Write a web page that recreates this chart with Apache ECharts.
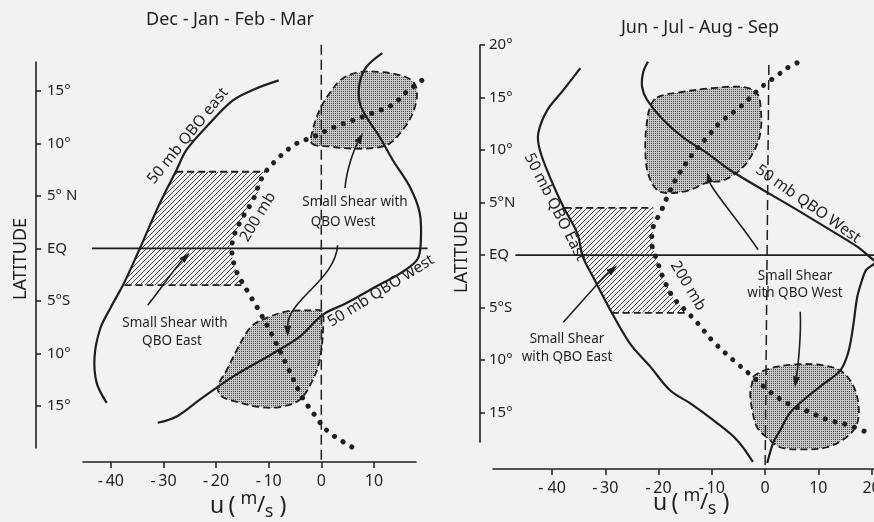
<!DOCTYPE html>
<html><head><meta charset="utf-8">
<script src="https://cdn.jsdelivr.net/npm/echarts@6/dist/echarts.min.js"></script>
<style>html,body{margin:0;padding:0;background:#f2f2f0;} #chart{width:874px;height:522px;}</style>
</head><body><div id="chart"></div>
<script>
// ---------------- DATA ----------------
// Left panel: Dec-Jan-Feb-Mar  (u in m/s, latitude in degrees)
const leftXTicks = [-40, -30, -20, -10, 0, 10];
const leftXLabels = ['-\u200940', '-\u200930', '-\u200920', '-\u200910', '0', '10'];
const leftYTicks = [15, 10, 5, 0, -5, -10, -15];
const leftYLabels = ['15°', '10°', '5° N', 'EQ', '5°S', '10°', '15°'];

const leftEast = [[-8.1,16.0],[-12.5,15.2],[-16.8,14.1],[-21.8,11.6],[-25.6,9.4],[-27.5,7.5],[-30.7,4.3],[-34.5,0],[-37.5,-3.3],[-40.0,-5.6],[-42.0,-7.6],[-43.1,-10.3],[-42.7,-12.8],[-40.8,-14.7]];
const leftWest = [[11.6,18.6],[8.6,17.3],[7.3,15.8],[7.3,13.9],[8.6,12.5],[11.1,10.6],[13.6,8.4],[16.8,5.9],[18.7,3.4],[18.9,0.5],[18.2,-1.1],[14.9,-2.4],[10.5,-3.6],[4.8,-5.2],[0.3,-6.3],[-4.1,-8.4],[-9.2,-10.0],[-16.8,-12.2],[-23.1,-14.4],[-27.5,-16.0],[-31.1,-16.6]];
const left200 = [[19.1,16.0],[16.2,14.9],[13.6,13.7],[9.8,12.9],[6.0,12.2],[2.2,11.5],[-1.6,10.6],[-5.0,9.9],[-9.2,8.1],[-11.3,6.7],[-13.0,4.6],[-14.9,3.0],[-16.6,1.2],[-17.0,-0.3],[-16.1,-2.2],[-14.0,-4.1],[-12.1,-5.7],[-9.4,-8.2],[-6.4,-11.3],[-3.7,-14.1],[-1.2,-15.9],[1.0,-17.3],[4.1,-18.4],[5.8,-18.9]];
const leftShearNorth = [[-1.8,10.0],[1.6,9.7],[6.0,9.5],[10.6,9.6],[13.0,10.0],[15.5,11.3],[17.4,12.9],[18.2,14.8],[17.4,15.9],[14.9,16.5],[11.1,16.8],[7.3,16.8],[4.1,16.2],[1.6,14.8],[-0.3,13.2],[-1.6,11.3]];
const leftShearSouth = [[-11.3,-6.8],[-6.6,-6.0],[-2.2,-5.9],[0.1,-6.0],[0.3,-8.0],[-0.3,-10.6],[-1.6,-12.5],[-4.1,-14.4],[-7.9,-15.1],[-11.7,-15.1],[-16.1,-14.6],[-18.9,-14.1],[-19.7,-13.2],[-18.0,-11.6],[-16.1,-9.7],[-14.2,-8.0],[-13.0,-7.3]];
const leftHatch = [[-27.6,7.3],[-10.7,7.3],[-11.3,6.7],[-12.3,4.9],[-14.0,4.0],[-14.9,3.0],[-16.1,1.8],[-17.0,0.6],[-17.0,-0.3],[-16.8,-1.3],[-16.1,-2.2],[-15.2,-3.5],[-37.4,-3.5],[-34.5,0],[-32.6,2.4],[-30.7,4.3],[-29.0,6.0]];
const leftHatchTop = [[-27.6,7.3],[-10.7,7.3]];
const leftHatchBottom = [[-37.4,-3.5],[-15.2,-3.5]];
const leftEq = [[-43.6,0],[20.2,0]];
const leftZero = [[0,19.4],[0,-20.3]];
// arrows: start, control1, control2, end
const leftArrows = [
  [4.5,5.75, 4.8,7.5, 6.2,9.4, 7.9,11.0],
  [3.1,0.3, 2.7,-3.0, -6.4,-4.9, -6.4,-8.4],
  [-33.0,-5.4, -30.7,-4.0, -27.9,-1.9, -25.0,-0.4]
];

// Right panel: Jun-Jul-Aug-Sep
const rightXTicks = [-40, -30, -20, -10, 0, 10, 20];
const rightXLabels = ['- 40', '-\u200930', '-\u200920', '-\u200910', '0', '10', '20'];
const rightYTicks = [20, 15, 10, 5, 0, -5, -10, -15];
const rightYLabels = ['20°', '15°', '10°', '5°N', 'EQ', '5°S', '10°', '15°'];

const rightEast = [[-34.7,17.8],[-37.9,15.7],[-40.9,13.8],[-42.6,11.6],[-42.3,10.0],[-40.4,7.4],[-37.9,4.6],[-35.3,2.1],[-34.2,-0.2],[-32.3,-2.1],[-29.1,-5.2],[-25.4,-8.4],[-21.6,-10.6],[-17.8,-12.9],[-14.1,-14.1],[-9.8,-15.7],[-5.3,-17.6],[-2.3,-19.7]];
const rightWest = [[-22.0,18.4],[-22.9,17.4],[-23.1,16.0],[-22.2,14.8],[-19.2,12.9],[-15.4,11.2],[-10.9,9.7],[-6.6,8.1],[-0.4,6.2],[6.0,4.3],[12.2,2.4],[17.3,0.8],[19.7,-0.2],[20.7,-0.7],[19.0,-1.4],[18.2,-2.4],[17.3,-4.0],[16.5,-6.9],[15.6,-9.3],[14.1,-11.0],[10.9,-12.3],[7.9,-13.5],[4.7,-15.0],[2.8,-16.7],[1.5,-17.9],[0.4,-19.8]];
const right200 = [[6.0,18.3],[4.1,17.8],[2.3,17.1],[0.6,16.5],[-0.9,15.9],[-4.7,14.1],[-8.5,12.6],[-10.9,11.2],[-13.5,9.7],[-16.9,7.1],[-18.4,5.5],[-19.7,4.0],[-21.0,2.7],[-21.2,0.8],[-20.3,-0.5],[-19.2,-2.1],[-17.3,-4.0],[-14.5,-5.5],[-12.8,-6.4],[-10.0,-8.1],[-6.0,-10.0],[-2.3,-11.6],[0.6,-12.9],[4.1,-14.1],[8.1,-14.9],[11.8,-15.7],[15.6,-16.2],[19.7,-17.0]];
const rightShearNorth = [[-20.3,15.0],[-16.0,15.5],[-9.8,15.9],[-4.1,16.0],[-1.5,15.4],[-0.8,13.8],[-0.9,11.6],[-2.3,9.7],[-4.7,8.1],[-7.9,7.1],[-10.9,6.9],[-14.1,6.2],[-17.8,5.9],[-20.3,6.2],[-22.0,7.8],[-22.5,10.0],[-22.3,12.2],[-21.6,14.1]];
const rightShearSouth = [[-2.3,-11.6],[0.9,-10.8],[6.0,-10.4],[10.9,-10.5],[14.1,-11.0],[16.3,-12.2],[17.5,-14.1],[17.3,-16.0],[15.4,-17.3],[11.6,-18.3],[6.6,-18.5],[2.8,-18.3],[0.4,-17.4],[-1.5,-16.4],[-2.4,-14.8],[-2.8,-13.1],[-2.4,-12.1]];
const rightHatch = [[-37.7,4.5],[-21.0,4.5],[-21.0,2.7],[-21.2,0.8],[-20.3,-0.5],[-19.2,-2.1],[-17.3,-4.0],[-14.6,-5.5],[-28.8,-5.5],[-32.3,-2.1],[-34.2,-0.2],[-35.3,2.1],[-36.6,3.4]];
const rightHatchTop = [[-37.7,4.5],[-21.0,4.5]];
const rightHatchBottom = [[-28.8,-5.5],[-14.6,-5.5]];
const rightEq = [[-46.9,0],[21.0,0]];
const rightZero = [[0.7,18.1],[0,-20.4]];
const rightArrows = [
  [-1.3,0.5, -4.7,3.1, -10.0,6.2, -10.9,7.9],
  [6.6,-5.4, 6.8,-7.6, 6.2,-10.5, 5.6,-12.6],
  [-37.9,-6.4, -34.7,-4.6, -31.0,-2.4, -27.8,-1.0]
];

// ---------------- STYLE ----------------
const INK = '#1f1f1f';
const FONT = '"Noto Sans", "DejaVu Sans", sans-serif';

function makeStipple() {
  const c = document.createElement('canvas'); c.width = 2; c.height = 2;
  const g = c.getContext('2d');
  g.fillStyle = '#c9c9c7'; g.fillRect(0, 0, 2, 2);
  g.fillStyle = '#474747'; g.fillRect(1, 1, 1, 1);
  return c;
}
function makeHatch() {
  const s = 5;
  const c = document.createElement('canvas'); c.width = s; c.height = s;
  const g = c.getContext('2d');
  g.strokeStyle = '#333'; g.lineWidth = 0.9;
  g.beginPath();
  g.moveTo(0, s); g.lineTo(s, 0);
  g.moveTo(-1, 1); g.lineTo(1, -1);
  g.moveTo(s - 1, s + 1); g.lineTo(s + 1, s - 1);
  g.stroke();
  return c;
}
const stipple = { image: makeStipple(), repeat: 'repeat' };
const hatch = { image: makeHatch(), repeat: 'repeat' };

function fmt(ticks, labels) {
  return function (v) { const i = ticks.indexOf(Math.round(v)); return i >= 0 ? labels[i] : ''; };
}
function xAxisCfg(grid, min, max, ticks, labels, offset, margin) {
  return {
    type: 'value', gridIndex: grid, min: min, max: max, offset: offset, position: 'bottom',
    axisLine: { show: true, onZero: false, lineStyle: { color: INK, width: 1.6 } },
    axisTick: { show: true, inside: false, length: 6, customValues: ticks, lineStyle: { color: INK, width: 1.5 } },
    axisLabel: { show: true, customValues: ticks, margin: margin, color: INK, fontSize: 16, fontFamily: FONT, formatter: fmt(ticks, labels) },
    splitLine: { show: false }
  };
}
function yAxisCfg(grid, min, max, ticks, labels, offset, margin) {
  return {
    type: 'value', gridIndex: grid, min: min, max: max, offset: offset, position: 'left',
    axisLine: { show: true, onZero: false, lineStyle: { color: INK, width: 1.6 } },
    axisTick: { show: true, inside: true, length: 5, customValues: ticks, lineStyle: { color: INK, width: 1.5 } },
    axisLabel: { show: true, inside: true, customValues: ticks, margin: margin, color: INK, fontSize: 15, fontFamily: FONT, formatter: fmt(ticks, labels) },
    splitLine: { show: false }
  };
}

// polyline drawn through the axes' scales (not clamped to the grid)
function curve(idx, pts, smooth, style) {
  return {
    type: 'custom', xAxisIndex: idx, yAxisIndex: idx, data: pts, encode: { x: 0, y: 1 }, silent: true, z: 5, clip: false,
    renderItem: function (params, api) {
      if (params.dataIndex !== 0) return;
      const p = pts.map(function (d) { return api.coord(d); });
      return { type: 'polyline', shape: { points: p, smooth: smooth }, style: Object.assign({ fill: null, stroke: INK }, style) };
    }
  };
}
const solid = { lineWidth: 2.2 };
const thin = { lineWidth: 1.7 };
const dotted = { lineWidth: 5, lineDash: [0.1, 10], lineCap: 'round' };
const dashedZero = { lineWidth: 1.5, lineDash: [10, 5] };
const dashedEdge = { lineWidth: 1.8, lineDash: [7, 4] };

function areaSeries(idx, pts, fill, dashed, smooth) {
  return {
    type: 'custom', xAxisIndex: idx, yAxisIndex: idx, data: pts, encode: { x: 0, y: 1 }, silent: true, z: 2, clip: false,
    renderItem: function (params, api) {
      if (params.dataIndex !== 0) return;
      const p = pts.map(function (d) { return api.coord(d); });
      return { type: 'polygon', shape: { points: p, smooth: smooth },
        style: { fill: fill, stroke: dashed ? INK : null, lineWidth: 1.8, lineDash: dashed ? [7, 4] : null } };
    }
  };
}
function arrowSeries(idx, arrows) {
  return {
    type: 'custom', xAxisIndex: idx, yAxisIndex: idx, data: arrows, silent: true, z: 6, clip: false,
    encode: { x: [0, 2, 4, 6], y: [1, 3, 5, 7] },
    renderItem: function (params, api) {
      const p0 = api.coord([api.value(0), api.value(1)]);
      const c1 = api.coord([api.value(2), api.value(3)]);
      const c2 = api.coord([api.value(4), api.value(5)]);
      const p1 = api.coord([api.value(6), api.value(7)]);
      const dx = p1[0] - c2[0], dy = p1[1] - c2[1];
      const len = Math.hypot(dx, dy) || 1;
      const ux = dx / len, uy = dy / len, L = 11, W = 3.6;
      const b = [p1[0] - ux * L, p1[1] - uy * L];
      return { type: 'group', children: [
        { type: 'bezierCurve', shape: { x1: p0[0], y1: p0[1], cpx1: c1[0], cpy1: c1[1], cpx2: c2[0], cpy2: c2[1], x2: b[0], y2: b[1] },
          style: { stroke: INK, lineWidth: 1.6, fill: null } },
        { type: 'polygon', shape: { points: [p1, [b[0] - uy * W, b[1] + ux * W], [b[0] + uy * W, b[1] - ux * W]] },
          style: { fill: INK } }
      ] };
    }
  };
}

function txt(t, x, y, rot, size) {
  return { type: 'text', x: x, y: y, rotation: rot * Math.PI / 180, silent: true, z: 10,
    style: { text: t, fill: INK, font: size + 'px ' + FONT, fontSize: size, fontFamily: FONT,
      align: 'center', verticalAlign: 'middle', textAlign: 'center', textVerticalAlign: 'middle' } };
}
function unitName(x0, y0) {
  return [
    txt('u', x0, y0, 0, 23),
    txt('(', x0 + 15, y0, 0, 23),
    txt('m', x0 + 32, y0 - 7, 0, 18),
    txt('/', x0 + 44, y0, 0, 22),
    txt('s', x0 + 52, y0 + 6, 0, 18),
    txt(')', x0 + 66, y0, 0, 23)
  ];
}

const chart = echarts.init(document.getElementById('chart'), null, { renderer: 'canvas', width: 874, height: 522 });
chart.setOption({
  animation: false,
  backgroundColor: '#f2f2f0',
  grid: [
    { left: 83, top: 62, width: 333, height: 386, containLabel: false, outerBoundsMode: 'none' },
    { left: 493, top: 45, width: 381, height: 397, containLabel: false, outerBoundsMode: 'none' }
  ],
  xAxis: [
    xAxisCfg(0, -45.3, 18.0, leftXTicks, leftXLabels, 14, 11),
    xAxisCfg(1, -51.1, 20.45, rightXTicks, rightXLabels, 27, 11)
  ],
  yAxis: [
    yAxisCfg(0, -19.0, 17.75, leftYTicks, leftYLabels, 47, 11),
    yAxisCfg(1, -17.8, 20.0, rightYTicks, rightYLabels, 13, 9)
  ],
  series: [
    areaSeries(0, leftHatch, hatch, false, 0),
    areaSeries(0, leftShearNorth, stipple, true, 0.35),
    areaSeries(0, leftShearSouth, stipple, true, 0.35),
    curve(0, leftHatchTop, 0, dashedEdge),
    curve(0, leftHatchBottom, 0, dashedEdge),
    curve(0, leftEq, 0, thin),
    curve(0, leftZero, 0, dashedZero),
    curve(0, leftEast, 0.35, solid),
    curve(0, leftWest, 0.35, solid),
    curve(0, left200, 0.35, dotted),
    arrowSeries(0, leftArrows),

    areaSeries(1, rightHatch, hatch, false, 0),
    areaSeries(1, rightShearNorth, stipple, true, 0.35),
    areaSeries(1, rightShearSouth, stipple, true, 0.35),
    curve(1, rightHatchTop, 0, dashedEdge),
    curve(1, rightHatchBottom, 0, dashedEdge),
    curve(1, rightEq, 0, thin),
    curve(1, rightZero, 0, dashedZero),
    curve(1, rightEast, 0.35, solid),
    curve(1, rightWest, 0.3, solid),
    curve(1, right200, 0.35, dotted),
    arrowSeries(1, rightArrows)
  ],
  graphic: [
    txt('Dec - Jan - Feb - Mar', 230, 20, 0, 18),
    txt('Jun - Jul - Aug - Sep', 700, 28, 0, 18),
    txt('50 mb QBO east', 188, 136, 51, 15.5),
    txt('200 mb', 258, 217, 59, 15.5),
    txt('50 mb QBO west', 381, 291, 32, 15.5),
    txt('Small Shear with', 355, 202, 0, 13.5),
    txt('QBO West', 343, 222, 0, 13.5),
    txt('Small Shear with', 175, 323, 0, 13.5),
    txt('QBO East', 172, 341, 0, 13.5),
    txt('50 mb QBO East', 555, 207, -63, 15.5),
    txt('200 mb', 688, 286, -59, 15.5),
    txt('50 mb QBO West', 808, 204, -35, 15.5),
    txt('Small Shear', 795, 276, 0, 13.5),
    txt('with QBO West', 795, 293, 0, 13.5),
    txt('Small Shear', 567, 339, 0, 13.5),
    txt('with QBO East', 567, 357, 0, 13.5),
    txt('LATITUDE', 21, 259, 90, 18),
    txt('LATITUDE', 462, 252, 90, 18)
  ].concat(unitName(217, 506)).concat(unitName(660, 503))
});
</script></body></html>
